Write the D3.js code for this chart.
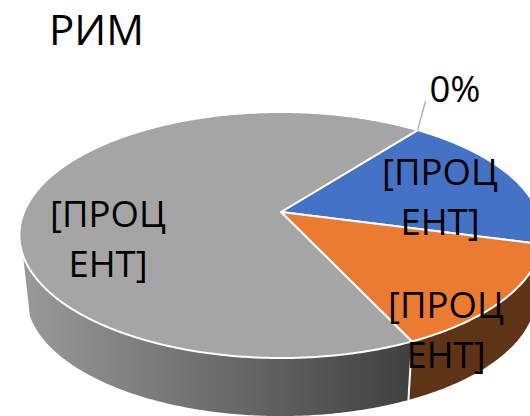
<!DOCTYPE html>
<html>
<head>
<meta charset="utf-8">
<script src="https://cdnjs.cloudflare.com/ajax/libs/d3/7.8.5/d3.min.js"></script>
<style>
    body { margin: 0; background: #fff; overflow: hidden; }
    text { font-family: "Open Sans", sans-serif; fill: #000; }
</style>
</head>
<body>
<svg id="chart" width="530" height="416"></svg>
<script>
// Data
var categories = ['a', 'b', 'c', 'd'];
var values = [18.7, 13.9, 67.4, 0];
var colors = ['#4472c4', '#ea7b30', '#a5a5a5', '#a5a5a5'];
var title = 'РИМ';
var labelLines = [['[ПРОЦ', 'ЕНТ]'], ['[ПРОЦ', 'ЕНТ]'], ['[ПРОЦ', 'ЕНТ]'], ['0%']];
var labelPos = [[440, 185], [446, 318], [108, 227], [455, 102]];

var svg = d3.select('#chart');

// Layout of the tilted disc (apex is off the ellipse centre because of perspective)
var apex = {x: 281, y: 212};
var rx = 257, ry = 118.7, persp = 0.187;
var depth = 62, lowerScale = 0.973;
var startAngle = 37.6 * Math.PI / 180;
var sideFrom = 85 * Math.PI / 180, sideTo = 250 * Math.PI / 180;

function project(angle, lower) {
    var u = Math.sin(angle), v = -Math.cos(angle);
    var s = 1 / (1 - persp * v);
    var k = lower ? lowerScale : 1;
    return [apex.x + rx * k * u * s, apex.y + (lower ? depth : 0) + ry * k * v * s];
}

function arcAngles(a0, a1) {
    var n = Math.max(2, Math.ceil((a1 - a0) / 0.01));
    return d3.range(n + 1).map(i => a0 + (a1 - a0) * i / n);
}

var pie = d3.pie().sort(null).value(d => d)
    .startAngle(startAngle).endAngle(startAngle + 2 * Math.PI);
var slices = pie(values);
var line = d3.line();

// Gradient for the gray wall
var defs = svg.append('defs');
var grad = defs.append('linearGradient').attr('id', 'wallGray')
    .attr('gradientUnits', 'userSpaceOnUse')
    .attr('x1', 20).attr('x2', 410).attr('y1', 0).attr('y2', 0);
grad.append('stop').attr('offset', '0%').attr('stop-color', '#9a9a9a');
grad.append('stop').attr('offset', '100%').attr('stop-color', '#404040');
var wallFill = ['#2f5597', '#5f3316', 'url(#wallGray)', '#404040'];

// Walls first, top face goes over them
slices.forEach(function(d, i) {
    // the wall is only seen on the front of the disc
    var a0 = Math.max(d.startAngle, sideFrom), a1 = Math.min(d.endAngle, sideTo);
    if (a1 <= a0) return;
    var angles = arcAngles(a0, a1);
    var pts = angles.map(a => project(a, false))
        .concat(angles.slice().reverse().map(a => project(a, true)));
    svg.append('path').attr('class', 'wall')
        .attr('d', line(pts) + 'Z')
        .attr('fill', wallFill[i]);
});

// White seam between orange and gray walls
var seam = slices[1].endAngle;
svg.append('path')
    .attr('d', line([project(seam, false), project(seam, true)]))
    .attr('stroke', '#fff').attr('stroke-width', 2).attr('fill', 'none');

// Top face
slices.forEach(function(d, i) {
    if (d.value === 0) return;
    var pts = [[apex.x, apex.y]].concat(arcAngles(d.startAngle, d.endAngle).map(a => project(a, false)));
    svg.append('path').attr('class', 'slice')
        .attr('d', line(pts) + 'Z')
        .attr('fill', colors[i])
        .attr('stroke', '#fff')
        .attr('stroke-width', 2)
        .attr('stroke-linejoin', 'round');
});

// Leader line of the 0% label
var zeroEdge = project(slices[3].startAngle, false);
svg.append('line')
    .attr('x1', zeroEdge[0]).attr('y1', zeroEdge[1])
    .attr('x2', zeroEdge[0] + 8).attr('y2', zeroEdge[1] - 29)
    .attr('stroke', '#a6a6a6').attr('stroke-width', 1.3);

// Labels
var lineGap = 50;
labelLines.forEach(function(lines, i) {
    lines.forEach(function(t, j) {
        svg.append('text')
            .attr('x', labelPos[i][0])
            .attr('y', labelPos[i][1] + j * lineGap)
            .attr('text-anchor', 'middle')
            .style('font-size', '36.5px')
            .text(t);
    });
});

svg.append('text').attr('x', 49).attr('y', 45)
    .style('font-size', '42px')
    .text(title);
</script>
</body>
</html>
